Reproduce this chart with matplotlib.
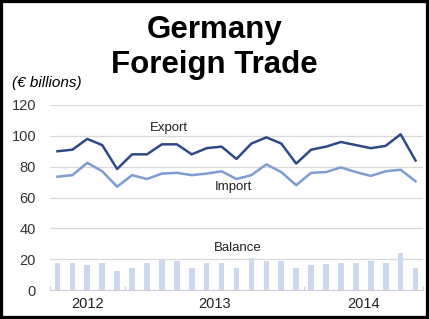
import numpy as np
from matplotlib import pyplot as plt
from matplotlib.patches import Rectangle

# monthly values, Aug 2012 - Aug 2014 (EUR billions)
months = np.arange(25)
export = [90, 91, 98, 94, 78.5, 88, 88, 94.5, 94.5, 88, 92, 93, 85, 95, 99,
          95, 82, 91, 93, 96, 94, 92, 93.5, 101, 84]
imports = [73.5, 74.5, 82.5, 77, 67, 74.5, 72, 75.5, 76, 74.5, 75.5, 77, 72,
           74.5, 81.5, 76.5, 68, 76, 76.5, 79.5, 76.5, 74, 77, 78, 70.5]
balance = [17.5, 17.5, 16.5, 17.5, 12.5, 14, 17.5, 19.5, 18.5, 14, 17.5, 17.5,
           14, 20.5, 18.5, 18.5, 14.5, 16, 17, 17.5, 17.5, 18.5, 17.5, 24, 14.5]
year_labels = ['2012', '2013', '2014']
year_centers = [2.0, 10.5, 20.5]
year_bounds = [-0.5, 4.5, 16.5, 24.5]

plt.rc('font', family='Liberation Sans')

fig = plt.figure(figsize=(4.29, 3.19), dpi=100)
ax = fig.add_axes([50/429, 1 - 290/319, 373/429, 185/319])

ax.bar(months, balance, width=0.38, color='#ccd8ed', zorder=2)
ax.plot(months, export, color='#2e4a86', lw=1.8, zorder=3)
ax.plot(months, imports, color='#7d9dd2', lw=1.8, zorder=3)

ax.set_ylim(0, 120)
ax.set_xlim(-0.5, 24.5)
ax.set_yticks(range(0, 121, 20))
ax.yaxis.grid(True, color='#d9d9d9', lw=0.9, zorder=0)
ax.set_axisbelow(True)
for s in ['left', 'right', 'top']:
    ax.spines[s].set_visible(False)
ax.spines['bottom'].set_color('#d0d0d0')
ax.tick_params(axis='y', length=0, labelsize=10.5, labelcolor='#333333', pad=10)

ax.set_xticks(year_bounds)
ax.set_xticklabels([])
ax.tick_params(axis='x', which='major', length=3, color='#d0d0d0', direction='in')
ax.set_xticks(year_centers, minor=True)
ax.set_xticklabels(year_labels, minor=True)
ax.tick_params(axis='x', which='minor', length=0, labelsize=10.5,
               labelcolor='#222222', pad=5)

ax.text(7.5, 105, 'Export', fontsize=9.5, ha='center', va='center', color='#222222')
ax.text(11.8, 67, 'Import', fontsize=9.5, ha='center', va='center', color='#222222')
ax.text(12.1, 27.5, 'Balance', fontsize=9.5, ha='center', va='center', color='#222222')

fig.text(0.5, 1 - 38/319, 'Germany', fontsize=22.5, fontweight='bold',
         ha='center', va='baseline')
fig.text(0.5, 1 - 73/319, 'Foreign Trade', fontsize=22.5, fontweight='bold',
         ha='center', va='baseline')
fig.text(12/429, 1 - 87/319, '(€ billions)', fontsize=11, style='italic',
         ha='left', va='baseline')

fig.patches.append(Rectangle((0, 0), 1, 1, transform=fig.transFigure,
                             fill=False, edgecolor='black', lw=4.5))

fig.savefig('out.png', dpi=100)
